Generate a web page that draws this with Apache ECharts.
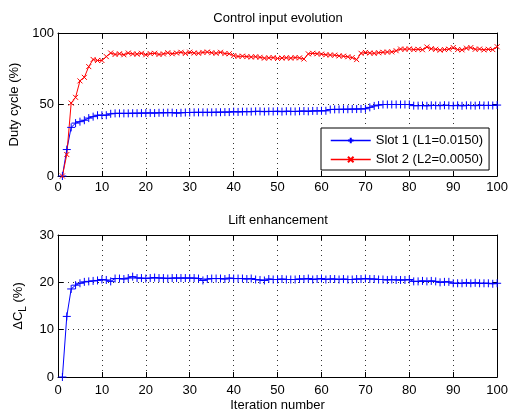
<!DOCTYPE html>
<html>
<head>
<meta charset="utf-8">
<script src="https://cdn.jsdelivr.net/npm/echarts@6/dist/echarts.min.js"></script>
<style>
  html, body { margin: 0; padding: 0; background: #fff; }
  #chart { width: 511px; height: 415px; }
</style>
</head>
<body>
<div id="chart"></div>
<script>
// Iteration index 1..100
const iterations = Array.from({ length: 100 }, (_, i) => i + 1);

// Duty cycle of slot 1 (%)
const slot1Duty = [
  0, 18.5, 34, 37, 38, 39, 40.5, 41.5, 42.5, 42.5,
  42.5, 43.5, 43.8, 43.8, 43.8, 43.8, 43.9, 43.9, 44, 44,
  44.1, 44, 44.2, 44.2, 44.3, 44.3, 44, 44.2, 44.4, 44.4,
  44.5, 44.5, 44.5, 44.5, 44.5, 44.6, 44.6, 44.7, 44.7, 45,
  44.8, 45, 45, 45, 45.2, 45.2, 45, 45.2, 45.1, 45.3,
  45, 45.3, 45.2, 45.1, 45.3, 45.4, 45.2, 45.5, 45.5, 45.6,
  45.6, 46.5, 46.6, 46.6, 46.7, 46.7, 46.8, 46.8, 46.9, 47,
  48, 49, 49.6, 50, 50, 50, 50, 50, 50, 50,
  49.2, 49.2, 49.3, 49.1, 49.4, 49.3, 49.2, 49.5, 49.3, 49.2,
  49.4, 49.1, 49.4, 49.3, 49.2, 49.5, 49.3, 49.4, 49.3, 49.6
];

// Duty cycle of slot 2 (%)
const slot2Duty = [
  0, 15, 51, 55, 66.5, 69, 76.5, 81.5, 80.8, 80.8,
  83.5, 86, 85, 85.5, 84.8, 86, 85.4, 85.2, 85.8, 84.8,
  85.6, 85.8, 85, 85.4, 86.2, 85.5, 86, 86.5, 85.7, 86.6,
  86, 85.8, 86.4, 86.7, 86.2, 85.8, 86.5, 85.6, 85.5, 84.2,
  83.6, 83.8, 83.5, 83.2, 83.4, 83, 82.4, 82.6, 82.8, 82.2,
  82.5, 82.7, 82.4, 82.8, 82.6, 81.8, 85.4, 85.8, 85.5, 85.2,
  84.8, 84.6, 84.5, 84, 83.8, 83.4, 82.8, 81.4, 85.8, 86.4,
  86, 85.8, 86.2, 86.5, 86.7, 86.8, 87.6, 88.8, 88.6, 88.9,
  88.4, 88.6, 88.3, 90.2, 89, 88.6, 88, 88.4, 88.7, 89.8,
  88.4, 88.2, 89.4, 89.8, 88.6, 88.8, 88.2, 88.6, 88.4, 90.4
];

// Lift coefficient increase (%)
const liftGain = [
  0, 12.8, 18.6, 19.4, 19.8, 20.1, 20.2, 20.3, 20.4, 20.6,
  20.5, 20.2, 20.8, 20.8, 20.7, 20.9, 21.2, 20.9, 20.9, 20.8,
  20.9, 21, 20.9, 20.9, 20.8, 20.9, 20.9, 20.9, 20.9, 20.9,
  20.9, 20.8, 20.4, 20.7, 20.8, 20.8, 20.8, 20.7, 20.9, 20.8,
  20.8, 20.8, 20.7, 20.8, 20.6, 20.5, 20.4, 20.7, 20.6, 20.6,
  20.7, 20.6, 20.6, 20.6, 20.7, 20.7, 20.8, 20.6, 20.7, 20.8,
  20.6, 20.7, 20.7, 20.6, 20.7, 20.6, 20.6, 20.7, 20.7, 20.8,
  20.7, 20.7, 20.6, 20.6, 20.5, 20.6, 20.5, 20.5, 20.5, 20.6,
  20.2, 20.2, 20.3, 20.2, 20.3, 20.2, 20, 20.1, 20.1, 19.8,
  19.8, 19.8, 19.9, 19.8, 19.9, 19.8, 19.8, 19.8, 19.7, 19.8
];

const seriesNames = ['Slot 1 (L1=0.0150)', 'Slot 2 (L2=0.0050)'];
const panelTitles = ['Control input evolution', 'Lift enhancement'];
const xTitle = 'Iteration number';

const FONT = '"Liberation Sans", Arial, Helvetica, sans-serif';
const BLUE = '#0000ff';
const RED = '#ff0000';
const PLUS = 'path://M5,0L5,10M0,5L10,5';
const CROSS = 'path://M0,0L10,10M10,0L0,10';

const pairs = ys => iterations.map((x, i) => [x, ys[i]]);

const gridLine = { show: true, lineStyle: { color: '#000', width: 1, type: [1, 4], opacity: 0.8 } };
const boxLine = { show: true, onZero: false, lineStyle: { color: '#000', width: 1 } };
const tickIn = { show: true, inside: true, length: 5, lineStyle: { color: '#000', width: 1 } };
const labelStyle = { color: '#000', fontSize: 13, fontFamily: FONT };

function xAxes(grid, nameText) {
  return [
    {
      type: 'value', gridIndex: grid, min: 0, max: 100, interval: 10, position: 'bottom',
      axisLine: boxLine, axisTick: tickIn, splitLine: gridLine,
      axisLabel: Object.assign({ margin: grid === 0 ? 5 : 7 }, labelStyle),
      name: nameText || '', nameLocation: 'middle', nameGap: 22,
      nameTextStyle: { color: '#000', fontSize: 13, fontFamily: FONT }
    },
    {
      type: 'value', gridIndex: grid, min: 0, max: 100, interval: 10, position: 'top',
      axisLine: boxLine, axisTick: tickIn, splitLine: { show: false }, axisLabel: { show: false }
    }
  ];
}

function yAxes(grid, max, interval, name, gap, rich) {
  return [
    {
      type: 'value', gridIndex: grid, min: 0, max: max, interval: interval, position: 'left',
      axisLine: boxLine, axisTick: tickIn, splitLine: gridLine,
      axisLabel: Object.assign({ margin: 4 }, labelStyle),
      name: name, nameLocation: 'middle', nameRotate: 90, nameGap: gap,
      nameTextStyle: { color: '#000', fontSize: 13, fontFamily: FONT, rich: rich }
    },
    {
      type: 'value', gridIndex: grid, min: 0, max: max, interval: interval, position: 'right',
      axisLine: boxLine, axisTick: tickIn, splitLine: { show: false }, axisLabel: { show: false }
    }
  ];
}

const xa = xAxes(0).concat(xAxes(1, xTitle));
const ya = yAxes(0, 100, 50, 'Duty cycle (%)', 34).concat(
  yAxes(1, 30, 10, '{n|ΔC}{s|L}{n| (%)}', 29, {
    n: { fontSize: 13, fontFamily: FONT, color: '#000', lineHeight: 20, verticalAlign: 'middle' },
    s: { fontSize: 10, fontFamily: FONT, color: '#000', lineHeight: 20, verticalAlign: 'bottom' }
  })
);

function lineSeries(name, data, color, symbol, size, xi, yi) {
  return {
    type: 'line', name: name, data: pairs(data), xAxisIndex: xi, yAxisIndex: yi,
    color: color, symbol: symbol, symbolSize: size, showSymbol: true,
    lineStyle: { color: color, width: 1 },
    itemStyle: { color: 'none', borderColor: color, borderWidth: 1 },
    emphasis: { disabled: true }, z: 3
  };
}

const chart = echarts.init(document.getElementById('chart'), null, { renderer: 'canvas' });
chart.setOption({
  animation: false,
  backgroundColor: '#ffffff',
  grid: [
    { left: 58, top: 33, width: 440, height: 143 },
    { left: 58, top: 235, width: 440, height: 142 }
  ],
  xAxis: xa,
  yAxis: ya,
  legend: {
    data: seriesNames,
    orient: 'vertical', left: 321, top: 128,
    padding: [5, 6, 3, 9], itemGap: 4, itemWidth: 40, itemHeight: 7,
    backgroundColor: '#fff', borderColor: '#000', borderWidth: 1,
    lineStyle: { width: 1.5 },
    textStyle: { color: '#000', fontSize: 13, fontFamily: FONT, lineHeight: 15 },
    selectedMode: false, z: 10
  },
  graphic: [
    { type: 'text', x: 278, y: 18, style: { text: panelTitles[0], align: 'center', verticalAlign: 'middle', fill: '#000', font: '13px ' + FONT } },
    { type: 'text', x: 278, y: 220, style: { text: panelTitles[1], align: 'center', verticalAlign: 'middle', fill: '#000', font: '13px ' + FONT } }
  ],
  series: [
    lineSeries(seriesNames[0], slot1Duty, BLUE, PLUS, 8, 0, 0),
    lineSeries(seriesNames[1], slot2Duty, RED, CROSS, 5, 0, 0),
    lineSeries('Lift', liftGain, BLUE, PLUS, 8, 2, 2)
  ]
});
</script>
</body>
</html>
